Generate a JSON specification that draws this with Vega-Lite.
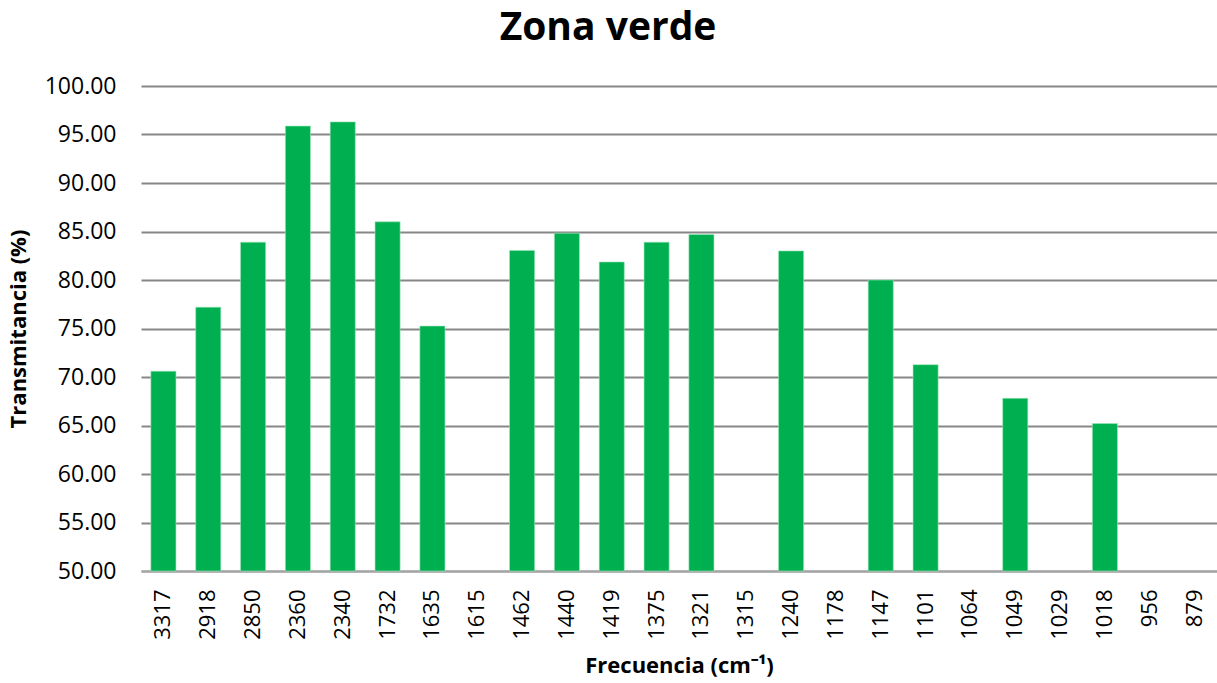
{
  "$schema": "https://vega.github.io/schema/vega-lite/v6.json",
  "width": 1076,
  "height": 485,
  "autosize": "none",
  "padding": {"left": 141, "top": 86, "right": 0, "bottom": 112},
  "background": "white",
  "title": {
    "text": "Zona verde",
    "font": "Open Sans",
    "fontSize": 39,
    "fontWeight": "bold",
    "color": "#000000",
    "anchor": "middle",
    "dx": -71,
    "offset": 27
  },
  "data": {
    "values": [
      {"freq": "3317", "t": 70.6},
      {"freq": "2918", "t": 77.2},
      {"freq": "2850", "t": 83.9},
      {"freq": "2360", "t": 95.87},
      {"freq": "2340", "t": 96.3},
      {"freq": "1732", "t": 86.0},
      {"freq": "1635", "t": 75.25},
      {"freq": "1615", "t": null},
      {"freq": "1462", "t": 83.05},
      {"freq": "1440", "t": 84.83},
      {"freq": "1419", "t": 81.86},
      {"freq": "1375", "t": 83.9},
      {"freq": "1321", "t": 84.7},
      {"freq": "1315", "t": null},
      {"freq": "1240", "t": 83.0},
      {"freq": "1178", "t": null},
      {"freq": "1147", "t": 80.0},
      {"freq": "1101", "t": 71.27},
      {"freq": "1064", "t": null},
      {"freq": "1049", "t": 67.8},
      {"freq": "1029", "t": null},
      {"freq": "1018", "t": 65.2},
      {"freq": "956", "t": null},
      {"freq": "879", "t": null}
    ]
  },
  "mark": {"type": "bar", "color": "#00B050", "stroke": "#9EE6B8", "strokeWidth": 0.6},
  "encoding": {
    "x": {
      "field": "freq",
      "type": "nominal",
      "sort": null,
      "scale": {
        "domain": ["3317","2918","2850","2360","2340","1732","1635","1615","1462","1440","1419","1375","1321","1315","1240","1178","1147","1101","1064","1049","1029","1018","956","879"],
        "paddingInner": 0.44,
        "paddingOuter": 0.22
      },
      "axis": {
        "title": "Frecuencia (cm⁻¹)",
        "titleFont": "Open Sans",
        "titleFontSize": 22,
        "titleFontWeight": "bold",
        "titleColor": "#000000",
        "titlePadding": 16,
        "labelFont": "Open Sans",
        "labelFontSize": 22,
        "labelColor": "#000000",
        "labelAngle": -90,
        "labelPadding": 18,
        "ticks": false,
        "domainColor": "#A6A6A6",
        "domainWidth": 2,
        "grid": false
      }
    },
    "y": {
      "field": "t",
      "type": "quantitative",
      "scale": {"domain": [50, 100], "zero": false, "nice": false},
      "axis": {
        "title": "Transmitancia (%)",
        "titleFont": "Open Sans",
        "titleFontSize": 22,
        "titleFontWeight": "bold",
        "titleColor": "#000000",
        "titlePadding": 14,
        "labelFont": "Open Sans",
        "labelFontSize": 23,
        "labelColor": "#000000",
        "labelPadding": 25,
        "values": [50,55,60,65,70,75,80,85,90,95,100],
        "format": ".2f",
        "ticks": false,
        "domain": false,
        "grid": true,
        "gridColor": "#878787",
        "gridWidth": 2
      }
    },
    "y2": {"datum": 50}
  },
  "config": {"view": {"stroke": null}}
}
